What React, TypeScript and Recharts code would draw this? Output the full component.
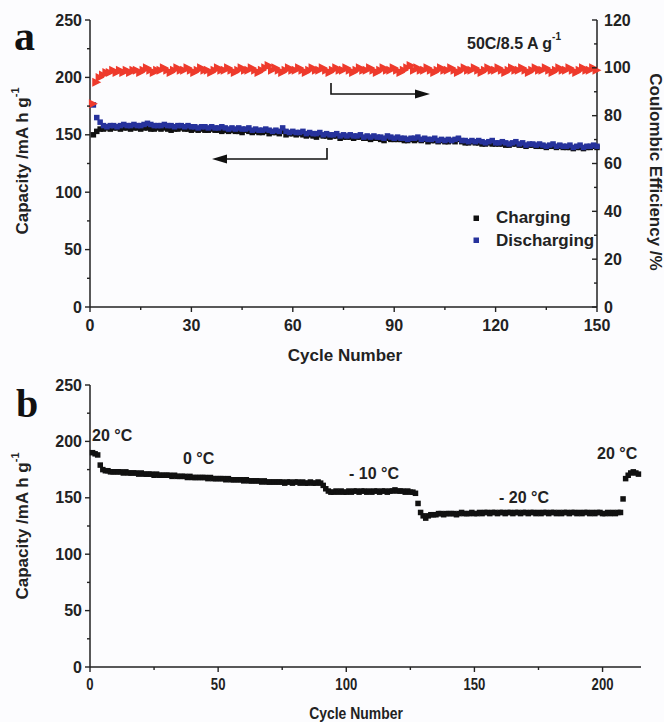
import React from "react";
import { ScatterChart, Scatter, XAxis, YAxis } from "recharts";

// panel a: rate test at 50C, cycles 1..150
const chargeA = [
  150, 153, 155, 155, 156, 155, 156, 156, 155, 156,
  156, 155, 156, 156, 155, 156, 156, 155, 155, 156,
  155, 156, 155, 154, 155, 155, 156, 155, 155, 154,
  155, 154, 155, 154, 154, 155, 154, 154, 153, 154,
  153, 154, 153, 153, 152, 154, 153, 152, 153, 152,
  152, 153, 151, 152, 152, 151, 153, 150, 151, 151,
  150, 151, 150, 149, 150, 149, 148, 150, 149, 149,
  148, 149, 149, 147, 148, 148, 148, 147, 148, 148,
  147, 147, 146, 147, 147, 146, 145, 147, 146, 146,
  146, 146, 145, 145, 146, 145, 146, 145, 146, 144,
  145, 145, 144, 145, 144, 144, 145, 144, 146, 144,
  143, 143, 144, 143, 143, 142, 142, 143, 142, 142,
  142, 142, 141, 141, 142, 142, 141, 141, 140, 141,
  141, 140, 140, 140, 139, 140, 140, 139, 140, 139,
  139, 139, 138, 139, 139, 138, 139, 139, 140, 139,
];

const dischargeA = [
  176, 165, 161, 158, 157, 158, 158, 157, 158, 159,
  158, 158, 159, 158, 158, 159, 160, 159, 158, 158,
  158, 159, 158, 158, 157, 158, 158, 157, 158, 157,
  157, 156, 157, 157, 156, 157, 156, 156, 157, 156,
  155, 156, 155, 156, 155, 155, 156, 154, 155, 154,
  154, 155, 154, 153, 154, 153, 156, 153, 152, 153,
  152, 152, 153, 151, 152, 151, 151, 152, 150, 151,
  150, 150, 151, 149, 150, 149, 150, 149, 149, 150,
  148, 149, 148, 149, 148, 148, 147, 149, 148, 147,
  148, 147, 147, 146, 147, 147, 148, 146, 147, 146,
  146, 147, 145, 146, 145, 146, 145, 146, 147, 145,
  145, 144, 145, 144, 145, 144, 143, 144, 145, 143,
  143, 144, 143, 142, 143, 144, 142, 143, 141, 142,
  142, 141, 142, 141, 140, 141, 142, 140, 141, 140,
  140, 141, 139, 140, 141, 139, 140, 140, 141, 140,
];

const efficiencyA = [
  85, 94, 96, 97, 98, 98, 99, 98, 99, 98,
  99, 98, 99, 99, 98, 99, 100, 99, 98, 99,
  99, 100, 99, 98, 99, 100, 99, 99, 100, 99,
  98, 99, 100, 99, 99, 98, 99, 100, 99, 99,
  100, 99, 98, 99, 100, 99, 99, 100, 99, 98,
  99, 100, 101, 99, 100, 99, 98, 99, 100, 99,
  99, 100, 99, 98, 99, 100, 99, 99, 100, 99,
  98, 99, 100, 99, 99, 100, 99, 98, 99, 100,
  99, 99, 100, 99, 98, 99, 100, 99, 99, 100,
  99, 98, 99, 100, 101, 99, 100, 99, 99, 100,
  99, 98, 99, 100, 99, 99, 100, 99, 98, 99,
  100, 99, 99, 100, 99, 98, 99, 100, 99, 99,
  100, 99, 98, 99, 100, 99, 99, 100, 99, 98,
  99, 100, 99, 99, 100, 99, 98, 99, 100, 99,
  99, 100, 99, 98, 99, 100, 99, 99, 100, 99,
];

// panel b: capacity at changing temperature, cycles 1..214
const capacityB = [
  190, 189, 188, 179, 175, 174, 174, 173, 173, 173,
  173, 173, 172, 173, 172, 172, 172, 172, 171, 172,
  171, 171, 171, 171, 170, 171, 170, 170, 170, 170,
  170, 169, 170, 169, 169, 169, 169, 168, 169, 168,
  168, 168, 168, 168, 168, 167, 168, 167, 167, 167,
  167, 167, 166, 167, 166, 166, 166, 166, 166, 165,
  166, 165, 165, 165, 165, 165, 164, 165, 164, 164,
  164, 164, 164, 164, 164, 163, 164, 164, 163, 164,
  164, 163, 164, 163, 163, 164, 163, 163, 164, 163,
  161, 158, 156, 155, 155, 156, 155, 156, 155, 155,
  156, 155, 156, 156, 155, 156, 156, 155, 156, 155,
  156, 156, 155, 156, 156, 155, 156, 156, 157, 156,
  156, 156, 155, 156, 155, 155, 154, 145, 137, 134,
  132, 134, 135, 135, 135, 136, 136, 135, 136, 136,
  136, 136, 135, 136, 137, 136, 136, 136, 137, 136,
  136, 137, 136, 137, 137, 136, 137, 137, 136, 137,
  137, 136, 137, 137, 136, 137, 137, 136, 137, 137,
  136, 137, 137, 136, 137, 136, 137, 137, 136, 137,
  137, 136, 137, 136, 137, 137, 136, 137, 137, 136,
  137, 136, 137, 137, 136, 137, 136, 137, 137, 136,
  136, 137, 136, 137, 136, 137, 137, 149, 167, 170,
  172, 173, 172, 171,
];

const cycleTicksA = [0, 15, 30, 45, 60, 75, 90, 105, 120, 135, 150];
const capacityTicks = [0, 25, 50, 75, 100, 125, 150, 175, 200, 225, 250];
const efficiencyTicks = [0, 10, 20, 30, 40, 50, 60, 70, 80, 90, 100, 110, 120];
const cycleTicksB = [0, 25, 50, 75, 100, 125, 150, 175, 200];

const toPoints = (vals: number[]) => vals.map((y, i) => ({ x: i + 1, y }));

const INK = "#222";
const SANS = "'Liberation Sans', Arial, sans-serif";

const square = (color: string, s: number) => (p: any) =>
  <rect x={p.cx - s / 2} y={p.cy - s / 2} width={s} height={s} fill={color} />;

const triangle = (p: any) => (
  <path
    d={`M${p.cx - 4.5},${p.cy - 4.5}L${p.cx + 4.5},${p.cy}L${p.cx - 4.5},${p.cy + 4.5}Z`}
    fill="#ee3a2c"
  />
);

// ticks drawn by hand so minor ticks can go without labels
const bottomTick = (step: number, squeeze: number) => (props: any) => {
  const { x, y, payload } = props;
  const major = payload.value % step === 0;
  return (
    <g>
      <line x1={x} x2={x} y1={y} y2={y + (major ? 5 : 3)} stroke={INK} strokeWidth={1.4} />
      {major && (
        <text
          transform={`translate(${x},${y + 18}) scale(${squeeze},1)`}
          textAnchor="middle"
          dominantBaseline="central"
          fontFamily={SANS}
          fontWeight="bold"
          fontSize={16}
          fill={INK}
        >
          {payload.value}
        </text>
      )}
    </g>
  );
};

const leftTick = (step: number) => (props: any) => {
  const { x, y, payload } = props;
  const major = payload.value % step === 0;
  return (
    <g>
      <line x1={x - (major ? 5 : 3)} x2={x} y1={y} y2={y} stroke={INK} strokeWidth={1.4} />
      {major && (
        <text x={x - 8} y={y} textAnchor="end" dominantBaseline="central"
          fontFamily={SANS} fontWeight="bold" fontSize={16} fill={INK}>
          {payload.value}
        </text>
      )}
    </g>
  );
};

// right axis of panel a has its ticks pointing into the plot
const rightTick = (step: number) => (props: any) => {
  const { x, y, payload } = props;
  const major = payload.value % step === 0;
  return (
    <g>
      <line x1={x - (major ? 5 : 3)} x2={x} y1={y} y2={y} stroke={INK} strokeWidth={1.4} />
      {major && (
        <text x={x + 7} y={y} textAnchor="start" dominantBaseline="central"
          fontFamily={SANS} fontWeight="bold" fontSize={16} fill={INK}>
          {payload.value}
        </text>
      )}
    </g>
  );
};

const axisLine = { stroke: INK, strokeWidth: 1.5 };

const txt = { fontFamily: SANS, fontWeight: "bold" as const, fill: INK };

const PanelA = () => (
  <ScatterChart width={664} height={360} margin={{ top: 20, right: 27, bottom: 0, left: 40 }}>
    <XAxis
      dataKey="x" type="number" domain={[0, 150]} ticks={cycleTicksA} interval={0}
      height={53} tickSize={0} tickMargin={0} tick={bottomTick(30, 1)} axisLine={axisLine}
    />
    <XAxis
      xAxisId="top" orientation="top" type="number" domain={[0, 150]}
      height={0} tick={false} tickLine={false} axisLine={axisLine}
    />
    <YAxis
      yAxisId="cap" dataKey="y" type="number" domain={[0, 250]} ticks={capacityTicks} interval={0}
      width={50} tickSize={0} tickMargin={0} tick={leftTick(50)} axisLine={axisLine}
    />
    <YAxis
      yAxisId="ce" orientation="right" dataKey="y" type="number" domain={[0, 120]}
      ticks={efficiencyTicks} interval={0}
      width={40} tickSize={0} tickMargin={0} tick={rightTick(20)} axisLine={axisLine}
    />
    <Scatter yAxisId="cap" data={toPoints(chargeA)} shape={square("#111", 5.5)} isAnimationActive={false} />
    <Scatter yAxisId="cap" data={toPoints(dischargeA)} shape={square("#26329c", 5.5)} isAnimationActive={false} />
    <Scatter yAxisId="ce" data={toPoints(efficiencyA)} shape={triangle} isAnimationActive={false} />
  </ScatterChart>
);

const PanelB = () => (
  <ScatterChart width={664} height={362} margin={{ top: 25, right: 23, bottom: 0, left: 40 }}>
    <XAxis
      dataKey="x" type="number" domain={[0, 215]} ticks={cycleTicksB} interval={0}
      height={55} tickSize={0} tickMargin={0} tick={bottomTick(50, 0.82)} axisLine={axisLine}
    />
    <XAxis
      xAxisId="top" orientation="top" type="number" domain={[0, 215]}
      height={0} tick={false} tickLine={false} axisLine={axisLine}
    />
    <YAxis
      dataKey="y" type="number" domain={[0, 250]} ticks={capacityTicks} interval={0}
      width={50} tickSize={0} tickMargin={0} tick={leftTick(50)} axisLine={axisLine}
    />
    <YAxis
      yAxisId="edge" orientation="right" type="number" domain={[0, 250]}
      width={0} tick={false} tickLine={false} axisLine={axisLine}
    />
    <Scatter data={toPoints(capacityB)} shape={square("#111", 5.5)} isAnimationActive={false} />
  </ScatterChart>
);

const Overlay = () => (
  <svg width={664} height={722} style={{ position: "absolute", left: 0, top: 0, pointerEvents: "none" }}>
    <text x={14} y={50} fontFamily="'Liberation Serif', serif" fontWeight="bold" fontSize={42} fill="#111">a</text>
    <text x={16} y={417} fontFamily="'Liberation Serif', serif" fontWeight="bold" fontSize={40} fill="#111">b</text>

    {/* panel a titles */}
    <text {...txt} fontSize={17} transform="translate(22,161) rotate(-90)" textAnchor="middle" dominantBaseline="central">
      Capacity /mA h g<tspan fontSize={11} dy={-7}>-1</tspan>
    </text>
    <text {...txt} fontSize={17} transform="translate(655,172) rotate(90)" textAnchor="middle" dominantBaseline="central">
      Coulombic Efficiency /%
    </text>
    <text {...txt} fontSize={17} x={345} y={355} textAnchor="middle" dominantBaseline="central">Cycle Number</text>
    <text {...txt} fontSize={16} x={467} y={43} dominantBaseline="central">
      50C/8.5 A g<tspan fontSize={10} dy={-7}>-1</tspan>
    </text>

    {/* legend */}
    <rect x={473.5} y={215.5} width={5.5} height={5.5} fill="#111" />
    <text {...txt} fontSize={17} x={496} y={217} dominantBaseline="central">Charging</text>
    <rect x={473.5} y={237.5} width={5.5} height={5.5} fill="#26329c" />
    <text {...txt} fontSize={17} x={496} y={240} dominantBaseline="central">Discharging</text>

    {/* arrows pointing at the axes */}
    <g stroke="#111" strokeWidth={1.6} fill="none">
      <polyline points="331,83 331,94 420,94" />
      <polyline points="327,148 327,159 222,159" />
    </g>
    <polygon points="430,94 415,89.5 415,98.5" fill="#111" />
    <polygon points="212,159 227,154.5 227,163.5" fill="#111" />

    {/* panel b titles */}
    <text {...txt} fontSize={17} transform="translate(22,526) rotate(-90)" textAnchor="middle" dominantBaseline="central">
      Capacity /mA h g<tspan fontSize={11} dy={-7}>-1</tspan>
    </text>
    <text {...txt} fontSize={17} transform="translate(356,713) scale(0.82,1)" textAnchor="middle" dominantBaseline="central">
      Cycle Number
    </text>
    <text {...txt} fontSize={16} x={92} y={435} dominantBaseline="central">20 °C</text>
    <text {...txt} fontSize={16} x={183} y={458} dominantBaseline="central">0 °C</text>
    <text {...txt} fontSize={16} x={349} y={473} dominantBaseline="central">- 10 °C</text>
    <text {...txt} fontSize={16} x={499} y={497} dominantBaseline="central">- 20 °C</text>
    <text {...txt} fontSize={16} x={597} y={453} dominantBaseline="central">20 °C</text>
  </svg>
);

export default function App() {
  return (
    <div style={{ position: "absolute", left: 0, top: 0, width: 664, height: 722, background: "#fcfcfe", fontFamily: SANS }}>
      <div style={{ position: "absolute", left: 0, top: 0 }}>
        <PanelA />
      </div>
      <div style={{ position: "absolute", left: 0, top: 360 }}>
        <PanelB />
      </div>
      <Overlay />
    </div>
  );
}
